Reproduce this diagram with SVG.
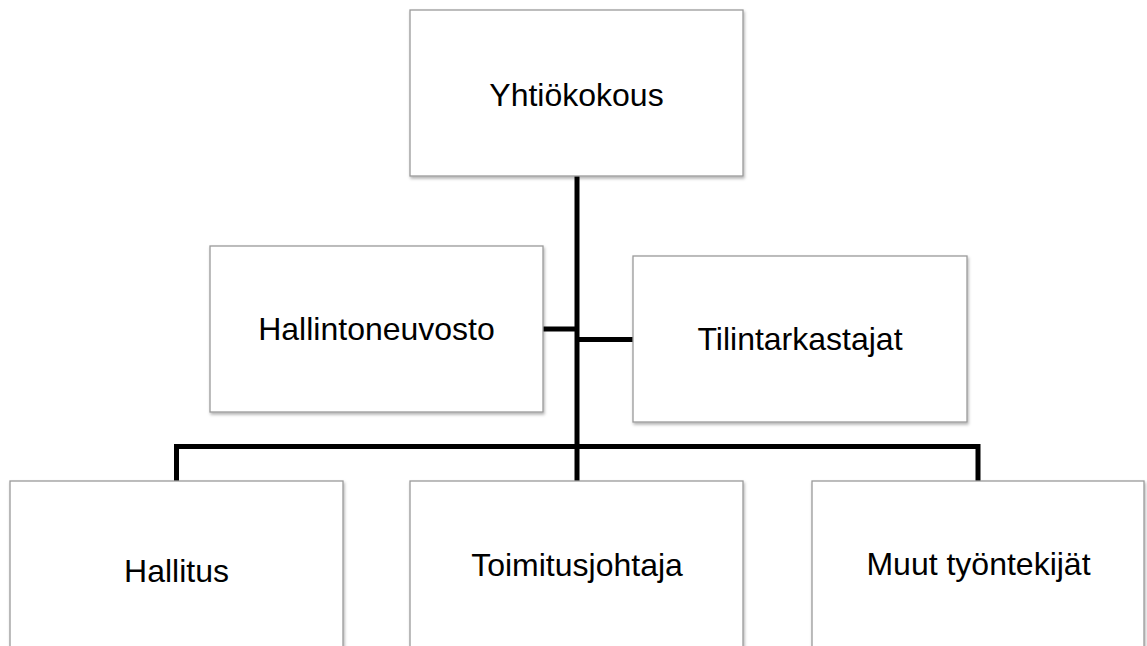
<svg xmlns="http://www.w3.org/2000/svg" width="1147" height="646" viewBox="0 0 1147 646">
<defs>
<filter id="sh" x="-5%" y="-5%" width="115%" height="115%">
<feDropShadow dx="1" dy="2" stdDeviation="1.5" flood-color="#000" flood-opacity="0.3"/>
</filter>
<style>
.box{fill:#fff;stroke:#9a9a9a;stroke-width:1.3;filter:url(#sh)}
.lbl{font-family:"Liberation Sans",Arial,sans-serif;font-size:32px;fill:#000;text-anchor:middle}
.con{stroke:#000;stroke-width:5;fill:none}
</style>
</defs>
<rect width="1147" height="646" fill="#fff"/>
<g id="connectors">
<line class="con" x1="577" y1="176" x2="577" y2="481"/>
<line class="con" x1="543" y1="329" x2="577" y2="329"/>
<line class="con" x1="577" y1="339.5" x2="633" y2="339.5"/>
<polyline class="con" points="176.5,481 176.5,446.5 978,446.5 978,481" stroke-linejoin="miter"/>
</g>
<g id="yhtiokokous">
<rect class="box" x="410" y="10" width="333" height="166"/>
<text class="lbl" x="576.5" y="106">Yhtiökokous</text>
</g>
<g id="hallintoneuvosto">
<rect class="box" x="210" y="246" width="333" height="166"/>
<text class="lbl" x="376.5" y="340">Hallintoneuvosto</text>
</g>
<g id="tilintarkastajat">
<rect class="box" x="633" y="256" width="334" height="166"/>
<text class="lbl" x="800" y="350">Tilintarkastajat</text>
</g>
<g id="hallitus">
<rect class="box" x="10" y="481" width="333" height="180"/>
<text class="lbl" x="176.5" y="582">Hallitus</text>
</g>
<g id="toimitusjohtaja">
<rect class="box" x="410" y="481" width="333" height="180"/>
<text class="lbl" x="577" y="576">Toimitusjohtaja</text>
</g>
<g id="muut">
<rect class="box" x="812" y="481" width="332" height="180"/>
<text class="lbl" x="978.5" y="575">Muut työntekijät</text>
</g>
</svg>
